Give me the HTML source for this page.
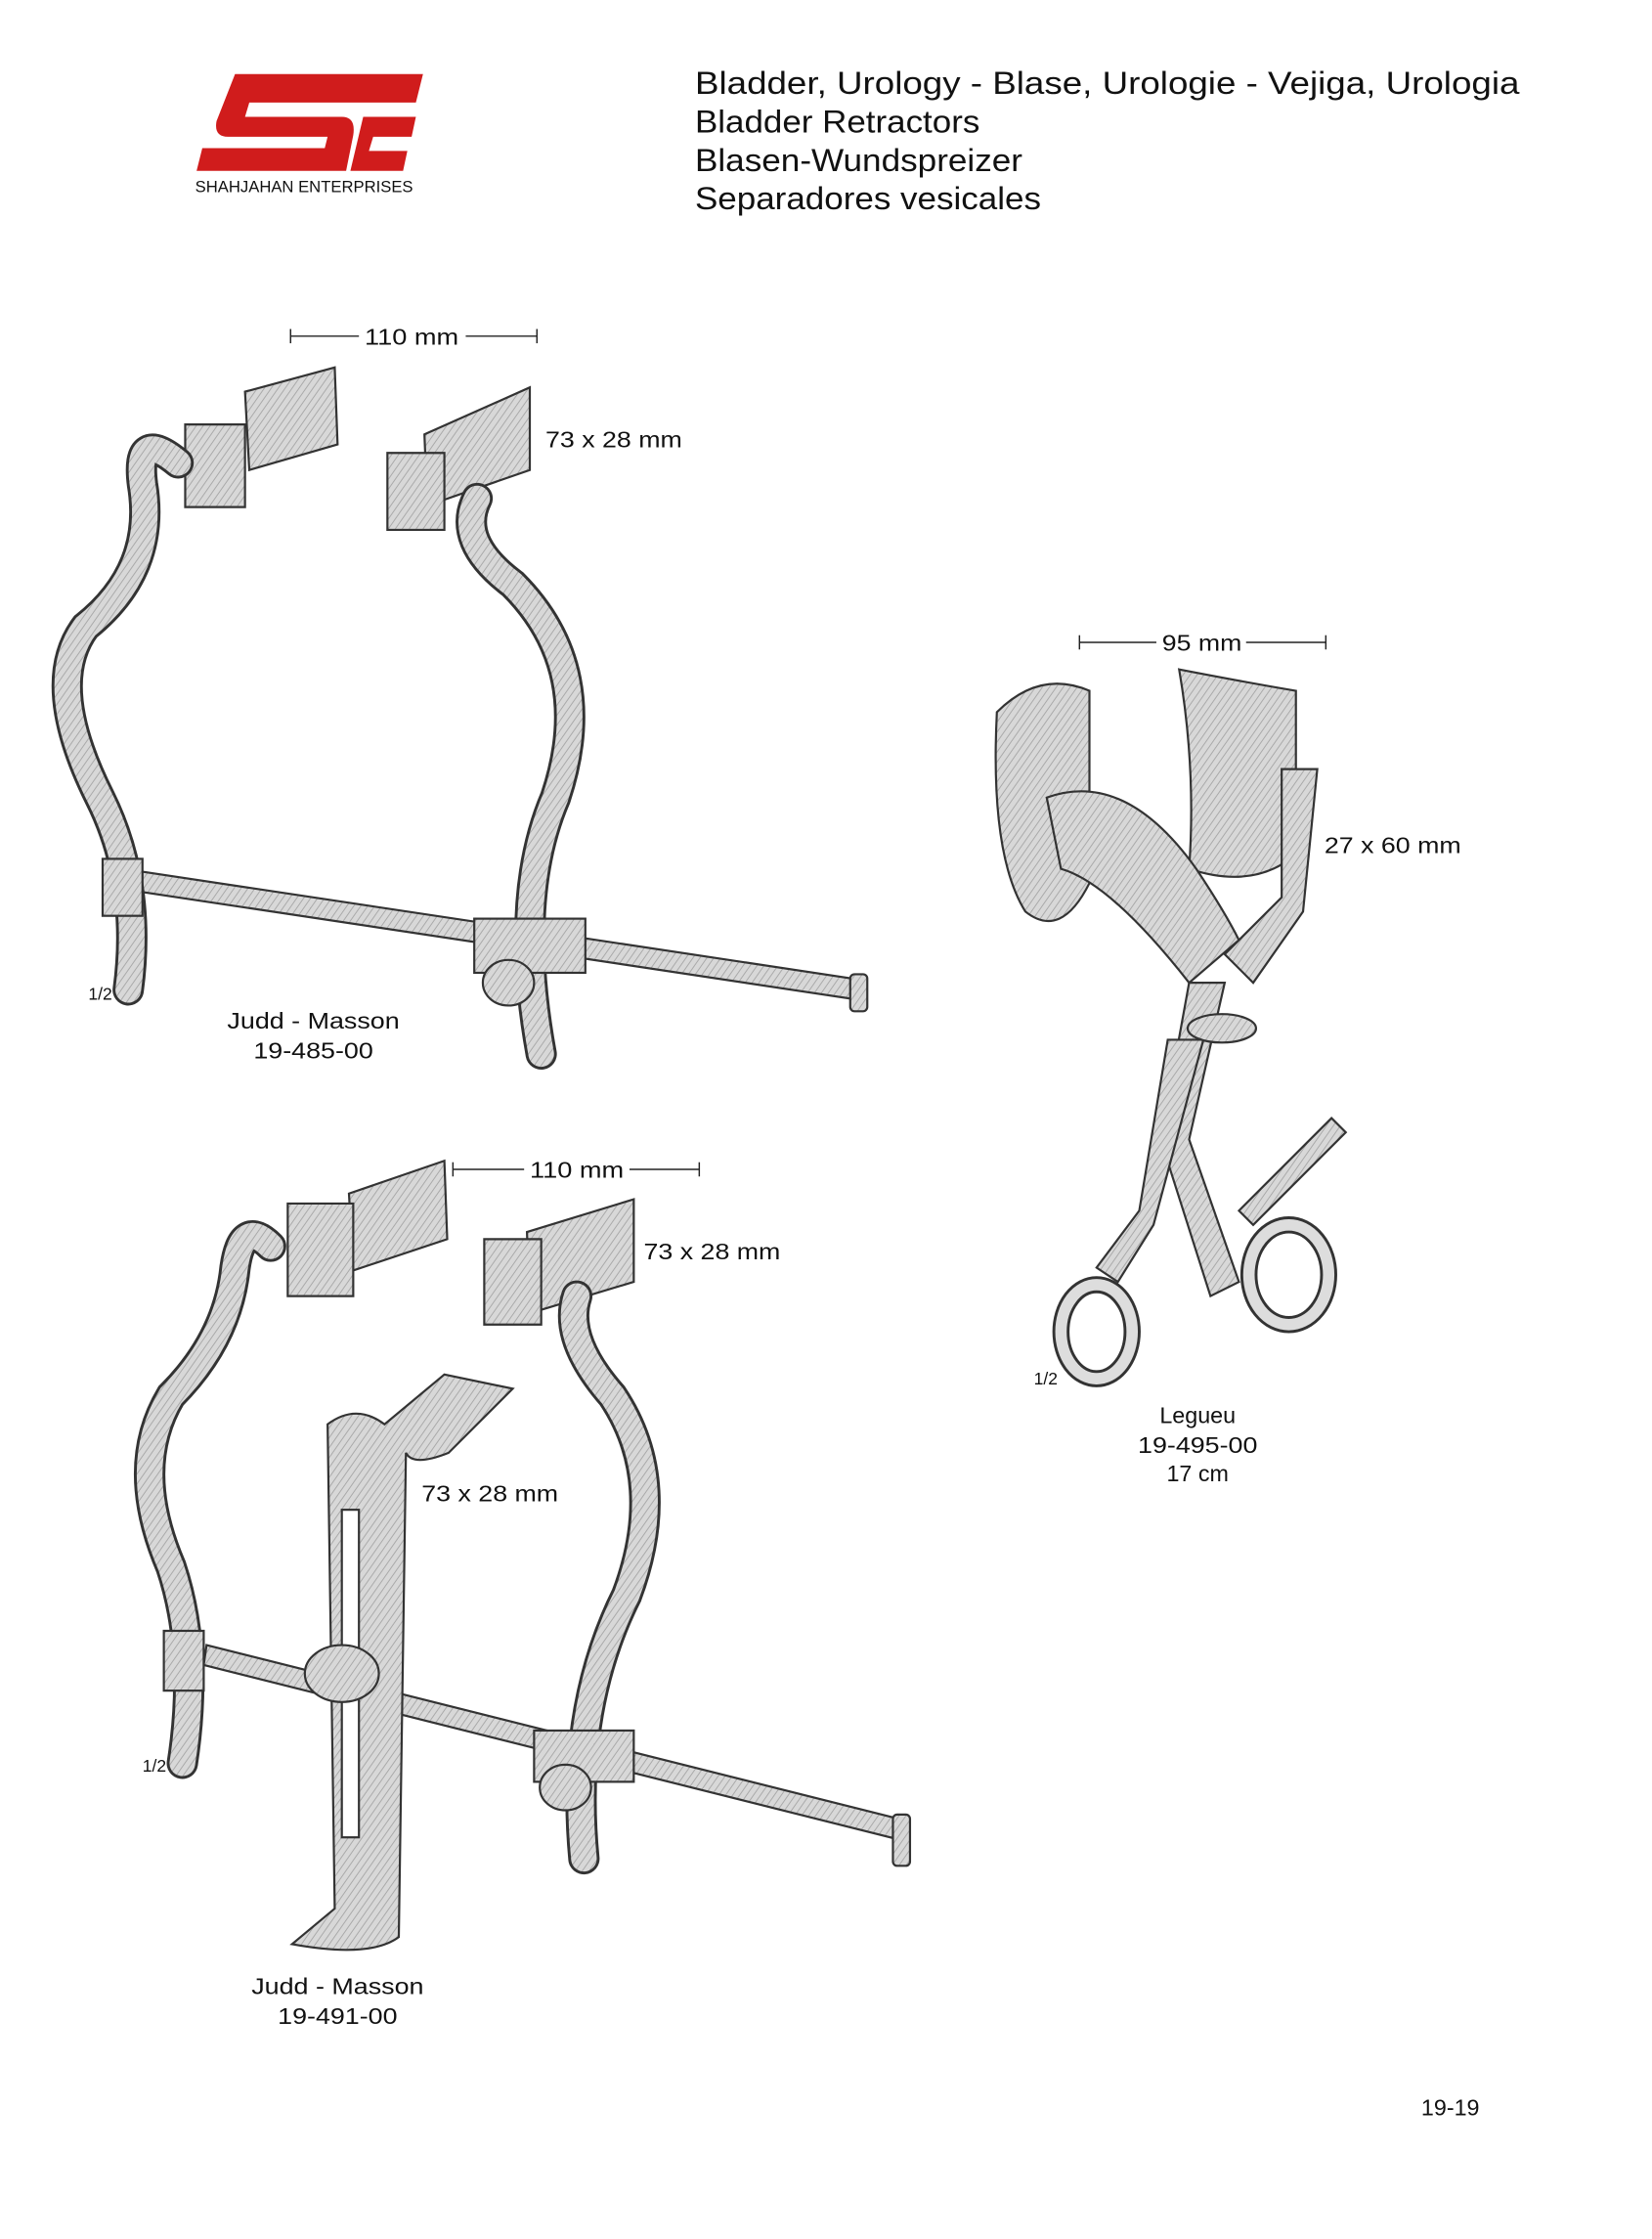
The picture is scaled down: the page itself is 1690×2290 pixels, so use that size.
<!DOCTYPE html>
<html><head><meta charset="utf-8"><style>
html,body{margin:0;padding:0;background:#fff;}
svg{display:block;}
text{font-family:"Liberation Sans",Arial,sans-serif;fill:#111;}
</style></head><body>
<svg width="1690" height="2290" viewBox="0 0 1160 1572" xmlns="http://www.w3.org/2000/svg">
<defs>
<pattern id="h" width="4" height="4" patternUnits="userSpaceOnUse" patternTransform="rotate(35)">
<rect width="4" height="4" fill="#d8d8d8"/><line x1="0" y1="0" x2="0" y2="4" stroke="#a8a8a8" stroke-width="1.3"/></pattern>
</defs>
<!-- logo -->
<path d="M165 52 H297 L292 72 H175 L172 82 H240 Q250 82 248 95 L243 120 H138 L142 104 H228 L230 96 H160 Q150 96 152 85 Z" fill="#d01c1c"/>
<path d="M255 82 H292 L289 96 H262 L259 106 H286 L283 120 H246 Z" fill="#d01c1c"/>
<text x="137" y="135" font-size="11.5" fill="#444" textLength="153" lengthAdjust="spacingAndGlyphs">SHAHJAHAN ENTERPRISES</text>
<!-- titles -->
<text x="488" y="66" font-size="22" textLength="579" lengthAdjust="spacingAndGlyphs">Bladder, Urology  -  Blase, Urologie  -  Vejiga, Urologia</text>
<text x="488" y="93" font-size="22" textLength="200" lengthAdjust="spacingAndGlyphs">Bladder Retractors</text>
<text x="488" y="120" font-size="22" textLength="230" lengthAdjust="spacingAndGlyphs">Blasen-Wundspreizer</text>
<text x="488" y="147" font-size="22" textLength="243" lengthAdjust="spacingAndGlyphs">Separadores vesicales</text>

<g stroke="#222" stroke-width="1">
<line x1="204" y1="236" x2="252" y2="236"/><line x1="204" y1="231" x2="204" y2="241"/>
<line x1="327" y1="236" x2="377" y2="236"/><line x1="377" y1="231" x2="377" y2="241"/>
<line x1="318" y1="821" x2="368" y2="821"/><line x1="318" y1="816" x2="318" y2="826"/>
<line x1="442" y1="821" x2="491" y2="821"/><line x1="491" y1="816" x2="491" y2="826"/>
<line x1="758" y1="451" x2="812" y2="451"/><line x1="758" y1="446" x2="758" y2="456"/>
<line x1="875" y1="451" x2="931" y2="451"/><line x1="931" y1="446" x2="931" y2="456"/>
</g>
<text x="256" y="242" font-size="16" textLength="66" lengthAdjust="spacingAndGlyphs">110 mm</text>
<text x="372" y="827" font-size="16" textLength="66" lengthAdjust="spacingAndGlyphs">110 mm</text>
<text x="816" y="457" font-size="16" textLength="56" lengthAdjust="spacingAndGlyphs">95 mm</text>
<text x="383" y="314" font-size="16" textLength="96" lengthAdjust="spacingAndGlyphs">73 x 28 mm</text>
<text x="452" y="884" font-size="16" textLength="96" lengthAdjust="spacingAndGlyphs">73 x 28 mm</text>
<text x="296" y="1054" font-size="16" textLength="96" lengthAdjust="spacingAndGlyphs">73 x 28 mm</text>
<text x="930" y="599" font-size="16" textLength="96" lengthAdjust="spacingAndGlyphs">27 x 60 mm</text>

<!-- instrument 1 -->
<g fill="url(#h)" stroke="#333" stroke-width="1.5">
<path d="M100 612 L605 688 L603 702 L98 626 Z"/>
<rect x="597" y="684" width="12" height="26" rx="3"/>
<path d="M172 275 L235 258 L237 312 L175 330 Z"/>
<path d="M130 298 H172 V356 H130 Z"/>
<path d="M298 305 L372 272 L372 330 L300 355 Z"/>
<path d="M272 318 H312 V372 H272 Z"/>
</g>
<g fill="none" stroke-linecap="round">
<path d="M125 325 Q95 300 100 340 Q110 400 60 440 Q30 480 70 560 Q100 620 90 695" stroke="#333" stroke-width="22"/>
<path d="M125 325 Q95 300 100 340 Q110 400 60 440 Q30 480 70 560 Q100 620 90 695" stroke="url(#h)" stroke-width="18"/>
<path d="M335 350 Q320 380 360 410 Q420 470 390 560 Q360 630 380 740" stroke="#333" stroke-width="22"/>
<path d="M335 350 Q320 380 360 410 Q420 470 390 560 Q360 630 380 740" stroke="url(#h)" stroke-width="18"/>
</g>
<g fill="url(#h)" stroke="#333" stroke-width="1.5">
<rect x="72" y="603" width="28" height="40"/>
<rect x="333" y="645" width="78" height="38"/>
<ellipse cx="357" cy="690" rx="18" ry="16"/>
</g>
<text x="62" y="702" font-size="12">1/2</text>
<text x="220" y="722" font-size="16" text-anchor="middle" textLength="121" lengthAdjust="spacingAndGlyphs">Judd - Masson</text>
<text x="220" y="743" font-size="16" text-anchor="middle" textLength="84" lengthAdjust="spacingAndGlyphs">19-485-00</text>

<!-- instrument 2 -->
<g fill="url(#h)" stroke="#333" stroke-width="1.5">
<path d="M145 1155 L635 1278 L633 1292 L143 1169 Z"/>
<rect x="627" y="1274" width="12" height="36" rx="3"/>
<path d="M245 838 L312 815 L314 870 L248 892 Z"/>
<path d="M202 845 H248 V910 H202 Z"/>
<path d="M370 865 L445 842 L445 900 L372 922 Z"/>
<path d="M340 870 H380 V930 H340 Z"/>
</g>
<g fill="none" stroke-linecap="round">
<path d="M190 875 Q170 855 165 890 Q160 940 120 980 Q90 1030 120 1100 Q140 1160 128 1238" stroke="#333" stroke-width="22"/>
<path d="M190 875 Q170 855 165 890 Q160 940 120 980 Q90 1030 120 1100 Q140 1160 128 1238" stroke="url(#h)" stroke-width="18"/>
<path d="M405 910 Q395 940 430 980 Q470 1040 440 1120 Q400 1200 410 1305" stroke="#333" stroke-width="22"/>
<path d="M405 910 Q395 940 430 980 Q470 1040 440 1120 Q400 1200 410 1305" stroke="url(#h)" stroke-width="18"/>
</g>
<g fill="url(#h)" stroke="#333" stroke-width="1.5">
<path d="M230 1000 Q250 985 270 1000 L312 965 L360 975 L315 1020 Q290 1030 285 1020 L280 1360 Q260 1375 205 1365 L235 1340 Z"/>
<rect x="240" y="1060" width="12" height="230" fill="#fff"/>
<ellipse cx="240" cy="1175" rx="26" ry="20"/>
<rect x="115" y="1145" width="28" height="42"/>
<rect x="375" y="1215" width="70" height="36"/>
<ellipse cx="397" cy="1255" rx="18" ry="16"/>
</g>
<text x="100" y="1244" font-size="12">1/2</text>
<text x="237" y="1400" font-size="16" text-anchor="middle" textLength="121" lengthAdjust="spacingAndGlyphs">Judd - Masson</text>
<text x="237" y="1421" font-size="16" text-anchor="middle" textLength="84" lengthAdjust="spacingAndGlyphs">19-491-00</text>

<!-- Legueu -->
<g fill="url(#h)" stroke="#333" stroke-width="1.5">
<path d="M700 500 Q730 470 765 485 L765 620 Q745 660 720 640 Q695 600 700 500 Z"/>
<path d="M828 470 Q880 480 910 485 L910 600 Q880 625 835 610 Q840 540 828 470 Z"/>
<path d="M735 560 Q790 540 840 610 Q860 640 870 660 L835 690 Q780 620 745 610 Z"/>
<path d="M900 540 L925 540 L915 640 L880 690 L860 670 L900 630 Z"/>
<path d="M835 690 L860 690 L835 800 L870 900 L850 910 L815 800 Z"/>
<path d="M820 730 L845 730 L810 860 L785 900 L770 890 L800 850 Z"/>
<path d="M870 850 L935 785 L945 795 L880 860 Z"/>
<ellipse cx="858" cy="722" rx="24" ry="10"/>
</g>
<g fill="none" stroke="#333" stroke-width="12">
<ellipse cx="770" cy="935" rx="25" ry="33"/>
<ellipse cx="905" cy="895" rx="28" ry="35"/>
</g>
<g fill="none" stroke="#ddd" stroke-width="8">
<ellipse cx="770" cy="935" rx="25" ry="33"/>
<ellipse cx="905" cy="895" rx="28" ry="35"/>
</g>
<text x="726" y="972" font-size="12">1/2</text>
<text x="841" y="999" font-size="16" text-anchor="middle">Legueu</text>
<text x="841" y="1020" font-size="16" text-anchor="middle" textLength="84" lengthAdjust="spacingAndGlyphs">19-495-00</text>
<text x="841" y="1040" font-size="16" text-anchor="middle">17 cm</text>

<text x="998" y="1485" font-size="16">19-19</text>
</svg>
</body></html>
